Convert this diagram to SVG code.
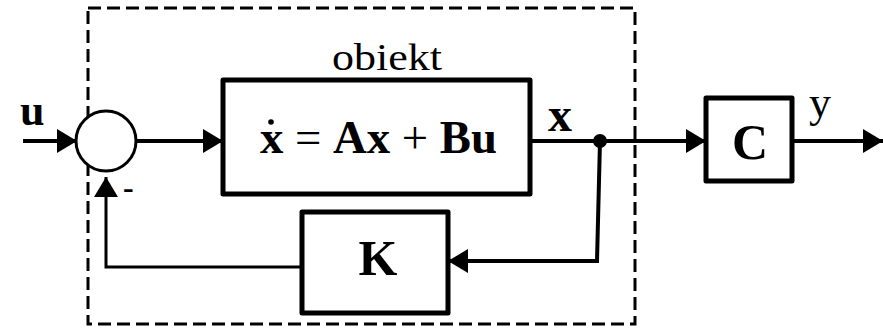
<svg xmlns="http://www.w3.org/2000/svg" width="883" height="330" viewBox="0 0 883 330">
<defs>
<style>
.blk{fill:#fff;stroke:#000;stroke-width:5;stroke-linejoin:round}
.ln{fill:none;stroke:#000;stroke-width:4}
.thin{fill:none;stroke:#000;stroke-width:3}
.dash{fill:none;stroke:#000;stroke-width:3;stroke-dasharray:13 6}
.t{font-family:"Liberation Serif","Times New Roman",serif;fill:#000}
.b{font-weight:bold}
</style>
<marker id="ah" markerWidth="20" markerHeight="24" refX="20" refY="12" orient="auto" markerUnits="userSpaceOnUse">
<path d="M0,0 L20,12 L0,24 Z" fill="#000"/>
</marker>
</defs>
<rect width="883" height="330" fill="#fff"/>
<g id="boundary">
<rect class="dash" x="88" y="8" width="547" height="316"/>
</g>
<g id="connectors">
<line class="ln" x1="23" y1="141" x2="77" y2="141" marker-end="url(#ah)"/>
<line class="ln" x1="136" y1="141" x2="223" y2="141" marker-end="url(#ah)"/>
<line class="ln" x1="530" y1="141" x2="706" y2="141" marker-end="url(#ah)"/>
<line class="ln" x1="792" y1="141" x2="883" y2="141" marker-end="url(#ah)"/>
<polyline class="ln" points="600,141 597,261 448,261" marker-end="url(#ah)"/>
<polyline class="thin" points="302,267 106,267 106,177" marker-end="url(#ah)"/>
<circle cx="600" cy="141" r="7" fill="#000"/>
</g>
<g id="sum">
<circle cx="106" cy="141" r="30" fill="#fff" stroke="#000" stroke-width="3"/>
<text class="t b" x="123" y="198" font-size="32">-</text>
</g>
<g id="plant">
<rect class="blk" x="223" y="80" width="307" height="114"/>
<text class="t" x="332" y="70" font-size="37" textLength="110" lengthAdjust="spacingAndGlyphs">obiekt</text>
<text class="t" x="260" y="153" font-size="47" textLength="237" lengthAdjust="spacingAndGlyphs"><tspan class="b">x</tspan> = <tspan class="b">Ax</tspan> + <tspan class="b">Bu</tspan></text>
<circle cx="271" cy="122" r="2.8" fill="#000"/>
</g>
<g id="gainK">
<rect class="blk" x="302" y="212" width="146" height="101"/>
<text class="t b" x="378" y="275" font-size="50" text-anchor="middle">K</text>
</g>
<g id="output">
<rect class="blk" x="706" y="98" width="86" height="83"/>
<text class="t b" x="750" y="159" font-size="50" text-anchor="middle">C</text>
</g>
<g id="labels">
<text class="t b" x="20" y="125" font-size="44">u</text>
<text class="t b" x="548" y="131" font-size="48">x</text>
<text class="t" x="809" y="117" font-size="44">y</text>
</g>
</svg>
